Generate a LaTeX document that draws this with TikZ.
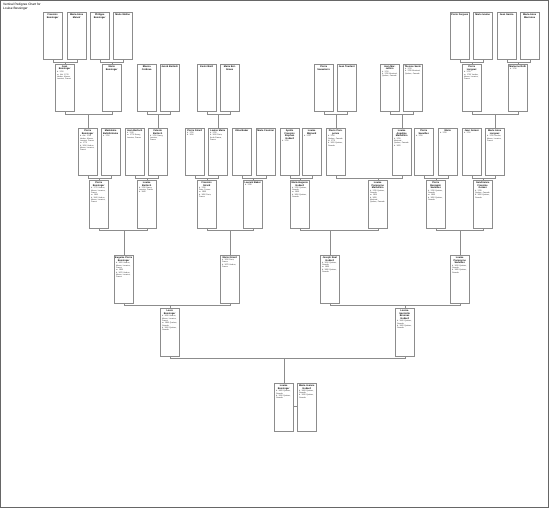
\documentclass[tikz,border=0pt]{standalone}
\usepackage{fontspec}
\setmainfont{Liberation Sans}
\begin{document}
\begin{tikzpicture}[x=1pt,y=-1pt,
  box/.style={draw=black!45,line width=0.4pt,fill=white,minimum width=19pt,minimum height=47.5pt,inner sep=0pt,anchor=north west},
  nm/.style={anchor=north,inner sep=0.5pt,text width=17pt,align=center,font=\fontsize{2.4}{2.8}\selectfont\bfseries},
  det/.style={anchor=north west,inner sep=0pt,text width=16pt,align=left,font=\fontsize{1.9}{2.3}\selectfont,text=black!80},
  ln/.style={draw=black!45,line width=0.35pt}]
\useasboundingbox (0,0) rectangle (549,508);
\draw[black!60,line width=0.8pt] (0.4,0.4) rectangle (548.6,507.6);
\node[anchor=north west,inner sep=0pt,align=left,font=\fontsize{3.2}{3.8}\selectfont] (title) at (3,3) {Vertical Pedigree Chart for\\Louise Bessinger};
\newcommand\pb[5]{%
  \node[box] (#1) at (#2,#3) {};
  \node[nm] (#1t) at ([yshift=-0.8pt]#1.north) {#4};
  \node[det] (#1d) at ([xshift=1.3pt]#1t.south west) {#5};}
% row 1
\pb{a1}{43}{12}{Francois Bessinger}{}
\pb{a2}{67}{12}{Marie-Anne Menoir}{}
\pb{a3}{90}{12}{Philippe Bessinger}{}
\pb{a4}{113}{12}{Marie Meline}{}
\pb{a5}{450}{12}{Pierre Fergues}{}
\pb{a6}{473}{12}{Marie Ivanne}{}
\pb{a7}{497}{12}{Jean Garcia}{}
\pb{a8}{520}{12}{Marie-Anne Marronne}{}
% row 2
\pb{b1}{55}{64}{Jean Bessinger}{b. 1700\\m. Abt. 1725\\Verdun, Meuse,\\Lorraine, France}
\pb{b2}{102}{64}{Marie Bessinger}{}
\pb{b3}{137}{64}{Blanca Cordova}{}
\pb{b4}{160}{64}{Jacob Bertoch}{}
\pb{b5}{197}{64}{Kevin Brett}{}
\pb{b6}{220}{64}{Marie Bettinaux}{}
\pb{b7}{314}{64}{Pierre Sauveterre}{}
\pb{b8}{337}{64}{Jean Tourlant}{}
\pb{b9}{380}{64}{Jean Marcellino}{b. 1720\\d. 1780 Montreal,\\Quebec, Canada}
\pb{b10}{403}{64}{Therese Sevin}{b. 1725\\d. 1785 Montreal,\\Quebec, Canada}
\pb{b11}{462}{64}{Pierre Longeuz}{b. 1725\\m. 1750 Verdun,\\Meuse, Lorraine,\\France}
\pb{b12}{508}{64}{Marianne Roth}{b. 1730}
% row 3
\pb{c1}{78}{128}{Pierre Bessinger}{b. Abt. 1745\\Verdun, Meuse,\\Lorraine, France\\m. 1770\\d. 1810 Verdun,\\Meuse, Lorraine,\\France}
\pb{c2}{101}{128}{Madeleine Bellefontaine}{b. 1750}
\pb{c3}{125}{128}{Jean Bertoch}{b. 1745\\m. 1770 Nancy,\\Lorraine, France}
\pb{c4}{148}{128}{Celeste Bertoch}{b. 1750 Nancy,\\Lorraine,\\France}
\pb{c5}{185}{128}{Pierre Girard}{b. 1750\\d. 1810}
\pb{c6}{208}{128}{Louise Marie}{b. 1755\\d. 1815 Paris,\\Ile-de-France,\\France}
\pb{c7}{232}{128}{Ulma Baker}{}
\pb{c8}{256}{128}{Marie Fournier}{}
\pb{c9}{280}{128}{Apollo Francois Stephan Godard}{b. 1750}
\pb{c10}{302}{128}{Louise Mignard}{b. 1755}
\pb{c11}{326}{128}{Pierre Pomponne}{b. 1750\\Quebec, Canada\\m. 1775\\d. 1820 Quebec,\\Canada}
\pb{c12}{392}{128}{Louise Angeline Marcellino}{b. 1755\\Montreal,\\Quebec, Canada\\d. 1825}
\pb{c13}{414}{128}{Pierre Sauvilles}{b. 1750}
\pb{c14}{438}{128}{Marie}{b. 1755}
\pb{c15}{462}{128}{Jean Gomez}{b. 1750}
\pb{c16}{485}{128}{Marie Anne Longeuz}{b. 1755 Verdun,\\Meuse, Lorraine,\\France}
% row 4
\pb{d1}{89}{180}{Pierre Bessinger}{b. 1775 Verdun,\\Meuse, Lorraine,\\France\\m. 1800\\d. 1840 Verdun,\\Meuse, Lorraine,\\France}
\pb{d2}{137}{180}{Louise Bertoch}{b. 1780 Nancy,\\Lorraine, France\\d. 1845}
\pb{d3}{197}{180}{Francois Girard}{b. 1780\\Paris, France\\m. 1805\\d. 1850 Paris,\\France}
\pb{d4}{243}{180}{Laurent Baker}{b. 1785}
\pb{d5}{290}{180}{Marie-Eugenie Godard}{b. 1780 Quebec,\\Canada\\m. 1805\\d. 1850 Quebec,\\Canada}
\pb{d6}{368}{180}{Louise Pomponne Marcellino}{b. 1785 Quebec,\\Canada\\m. 1810\\d. 1855\\Montreal,\\Quebec, Canada}
\pb{d7}{426}{180}{Pierre Benjamin Sauvilles}{b. 1780 Quebec,\\Canada\\m. 1805\\d. 1850 Quebec,\\Canada}
\pb{d8}{473}{180}{Gendrienne Francine Gomez}{b. 1785\\Quebec, Canada\\d. 1855 Quebec,\\Canada}
% row 5
\pb{e1}{114}{255}{Eugenie Pierre Bessinger}{b. 1805 Verdun,\\Meuse, Lorraine,\\France\\m. 1830\\d. 1870 Verdun,\\Meuse, Lorraine,\\France}
\pb{e2}{220}{255}{Marie Girard}{b. 1810 Paris,\\France\\d. 1875 Verdun,\\France}
\pb{e3}{320}{255}{Joseph Real Godard}{b. 1810 Quebec,\\Canada\\m. 1835\\d. 1880 Quebec,\\Canada}
\pb{e4}{450}{255}{Louise Pomponne Sauvilles}{b. 1815 Quebec,\\Canada\\d. 1885 Quebec,\\Canada}
% row 6
\pb{f1}{160}{308}{Louis Bessinger}{b. 1835 Verdun,\\Meuse, Lorraine,\\France\\m. 1860 Quebec,\\Canada\\d. 1900 Quebec,\\Canada}
\pb{f2}{395}{308}{Louise-Henriette Bresnas Godard}{b. 1840 Quebec,\\Canada\\d. 1905 Quebec,\\Canada}
% row 7
\pb{g1}{274}{383}{Louise Bessinger}{b. 1865 Quebec,\\Canada\\d. 1930 Quebec,\\Canada}
\pb{g2}{297}{383}{Marie-Jeanne Godard}{b. 1868 Quebec,\\Canada\\d. 1935 Quebec,\\Canada}
% connectors
\newcommand\famline[3]{%
  \path (#1.south) ++(0,1.8) coordinate (#1m);
  \draw[ln] (#1.south) -- (#1m) -- (#1m -| #2.south) -- (#2.south);
  \draw[ln] (#3.north) -- (#3.north |- #1m);}
\famline{a1}{a2}{b1}\famline{a3}{a4}{b2}\famline{a5}{a6}{b11}\famline{a7}{a8}{b12}
\famline{b1}{b2}{c1}\famline{b3}{b4}{c4}\famline{b5}{b6}{c6}\famline{b7}{b8}{c11}\famline{b9}{b10}{c12}\famline{b11}{b12}{c16}
\famline{c1}{c2}{d1}\famline{c3}{c4}{d2}\famline{c5}{c6}{d3}\famline{c7}{c8}{d4}\famline{c9}{c10}{d5}\famline{c11}{c12}{d6}\famline{c13}{c14}{d7}\famline{c15}{c16}{d8}
\famline{d1}{d2}{e1}\famline{d3}{d4}{e2}\famline{d5}{d6}{e3}\famline{d7}{d8}{e4}
\famline{e1}{e2}{f1}\famline{e3}{e4}{f2}
\famline{f1}{f2}{g1}
\draw[ln] (g1.east |- 0,406) -- (g2.west |- 0,406);
\end{tikzpicture}
\end{document}
